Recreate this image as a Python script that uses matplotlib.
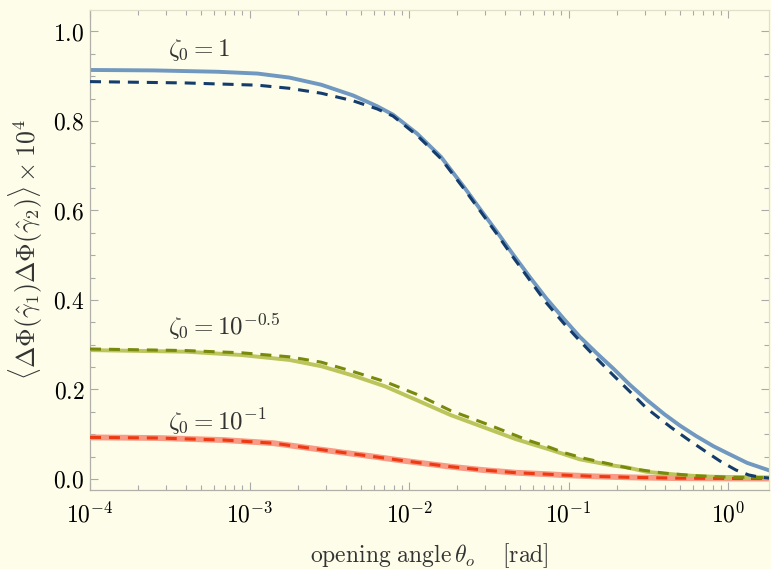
import numpy as np
import matplotlib
matplotlib.use("Agg")
import matplotlib.pyplot as plt
from matplotlib.ticker import FixedLocator, FuncFormatter, LogLocator, NullFormatter

plt.rcParams['mathtext.fontset'] = 'cm'
plt.rcParams['font.family'] = ['DejaVu Serif']

# ---- data (log10 of opening angle, correlation x 1e4) ----
blue_solid_logx = [-4.0, -3.6, -3.2, -2.95, -2.75, -2.55, -2.35, -2.2, -2.1, -1.95, -1.8, -1.65,
                   -1.55, -1.45, -1.35, -1.24, -1.14, -1.03, -0.93, -0.82, -0.72, -0.62, -0.51,
                   -0.40, -0.30, -0.20, -0.09, 0.0, 0.12, 0.26]
blue_solid_y = [0.914, 0.913, 0.910, 0.906, 0.897, 0.881, 0.857, 0.833, 0.814, 0.772, 0.720, 0.650,
                0.601, 0.553, 0.503, 0.450, 0.404, 0.358, 0.318, 0.280, 0.247, 0.212, 0.177,
                0.145, 0.119, 0.096, 0.073, 0.057, 0.036, 0.019]

blue_dash_logx = [-4.0, -3.4, -2.95, -2.75, -2.55, -2.35, -2.2, -2.1, -1.95, -1.8, -1.65, -1.55,
                  -1.45, -1.35, -1.24, -1.14, -1.03, -0.93, -0.82, -0.72, -0.62, -0.51, -0.36,
                  -0.25, -0.155, -0.05, 0.05, 0.13, 0.20, 0.26]
blue_dash_y = [0.888, 0.885, 0.880, 0.873, 0.862, 0.845, 0.827, 0.811, 0.768, 0.716, 0.646, 0.597,
               0.548, 0.497, 0.443, 0.394, 0.348, 0.309, 0.268, 0.232, 0.197, 0.158, 0.116,
               0.088, 0.065, 0.040, 0.020, 0.009, 0.004, 0.002]

green_solid_logx = [-4.0, -3.4, -3.05, -2.75, -2.55, -2.35, -2.15, -1.95, -1.74, -1.535, -1.33,
                    -1.12, -1.05, -0.93, -0.72, -0.635, -0.51, -0.30, -0.217, -0.09, 0.26]
green_solid_y = [0.288, 0.2845, 0.277, 0.266, 0.252, 0.231, 0.207, 0.176, 0.143, 0.116, 0.089,
                 0.066, 0.058, 0.044, 0.030, 0.026, 0.016, 0.009, 0.007, 0.005, 0.003]

green_dash_logx = [-4.0, -3.4, -3.05, -2.75, -2.55, -2.35, -2.15, -1.95, -1.74, -1.5, -1.35, -1.25,
                   -1.12, -1.03, -0.90, -0.62, -0.40, -0.19, 0.0, 0.26]
green_dash_y = [0.2905, 0.287, 0.282, 0.273, 0.261, 0.240, 0.2175, 0.189, 0.153, 0.121, 0.100, 0.086,
                0.071, 0.059, 0.046, 0.024, 0.013, 0.007, 0.004, 0.003]

red_solid_logx = [-4.0, -3.58, -3.16, -2.85, -2.54, -2.37, -2.22, -2.06, -1.93, -1.74, -1.535, -1.33,
                  -1.12, -1.05, -0.85, -0.6, -0.3, 0.0, 0.26]
red_solid_y = [0.093, 0.0916, 0.087, 0.080, 0.065, 0.057, 0.050, 0.042, 0.036, 0.0275, 0.020, 0.014,
               0.0105, 0.009, 0.006, 0.0035, 0.0018, 0.0012, 0.001]

red_dash_logx = red_solid_logx
red_dash_y = red_solid_y

xtick_exps = [-4, -3, -2, -1, 0]
yticks = [0.0, 0.2, 0.4, 0.6, 0.8, 1.0]

labels = [r'$\zeta_0 = 1$', r'$\zeta_0 = 10^{-0.5}$', r'$\zeta_0 = 10^{-1}$']
label_pos = [(10**-3.51, 0.958), (10**-3.51, 0.34), (10**-3.51, 0.128)]

# ---- figure ----
bg = '#fdfde9'
fig = plt.figure(figsize=(7.71, 5.69), dpi=100, facecolor=bg)
ax = fig.add_axes([90/771, 1-490/569, (769-90)/771, (490-10)/569], facecolor=bg)

def th(lx):
    return 10**np.asarray(lx, dtype=float)

ax.plot(th(red_solid_logx), red_solid_y, color='#f89a84', lw=4.2, solid_capstyle='butt', zorder=2)
ax.plot(th(red_dash_logx), red_dash_y, color='#ee3a12', lw=2.2, dashes=(3.6, 2.6), zorder=3)
ax.plot(th(green_solid_logx), green_solid_y, color='#bcc45c', lw=2.8, zorder=2)
ax.plot(th(green_dash_logx), green_dash_y, color='#788a0c', lw=2.2, dashes=(3.6, 2.6), zorder=3)
ax.plot(th(blue_solid_logx), blue_solid_y, color='#7098c0', lw=2.8, zorder=2)
ax.plot(th(blue_dash_logx), blue_dash_y, color='#143c6c', lw=2.2, dashes=(3.6, 2.6), zorder=3)

ax.set_xscale('log')
ax.set_xlim(1e-4, 10**0.257)
ax.set_ylim(-0.0246, 1.048)

ax.xaxis.set_major_locator(FixedLocator([10.0**e for e in xtick_exps]))
ax.xaxis.set_major_formatter(FuncFormatter(lambda v, p: r'$10^{%d}$' % int(round(np.log10(v)))))
ax.xaxis.set_minor_locator(LogLocator(base=10, subs=np.arange(2, 10), numticks=20))
ax.xaxis.set_minor_formatter(NullFormatter())

ax.yaxis.set_major_locator(FixedLocator(yticks))
ax.yaxis.set_major_formatter(FuncFormatter(lambda v, p: r'$%.1f$' % v))
ax.yaxis.set_minor_locator(FixedLocator(np.arange(0, 1.05, 0.05)))

ax.tick_params(which='both', direction='in', top=True, right=True, color='#aaaaaa', width=0.8)
ax.tick_params(which='major', length=6, labelsize=17)
ax.tick_params(which='minor', length=3.5)
ax.tick_params(axis='x', which='major', pad=9)
ax.tick_params(axis='y', which='major', pad=4)

for s in ax.spines.values():
    s.set_color('#b0b0a8')
    s.set_linewidth(0.9)
ax.spines['top'].set_color('#e0e0c8')
ax.spines['right'].set_color('#e0e0c8')

ax.set_xlabel(r'$\mathrm{opening\ angle}\,\theta_o\quad\ [\mathrm{rad}]$', fontsize=17, color='#333333', labelpad=10)
ax.set_ylabel(r'$\langle \Delta\Phi(\hat{\gamma}_1)\Delta\Phi(\hat{\gamma}_2)\rangle \times 10^4$',
              fontsize=18.5, color='#333333', labelpad=6)

for txt, (lx, ly) in zip(labels, label_pos):
    ax.text(lx, ly, txt, fontsize=18, color='#333333', ha='left', va='center')

fig.savefig('out.png', dpi=100, facecolor=bg)
